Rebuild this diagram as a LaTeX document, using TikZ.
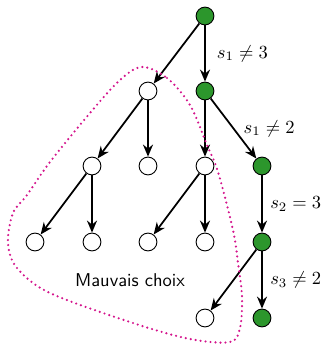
\documentclass[tikz,border=0pt]{standalone}
\usetikzlibrary{arrows.meta}
\definecolor{goodgreen}{RGB}{44,150,44}
\definecolor{badmag}{RGB}{212,20,140}
\begin{document}
\begin{tikzpicture}[x=0.54pt,y=-0.54pt,
  st/.style={circle,draw=black,line width=0.5pt,fill=white,minimum size=9.6pt,inner sep=0pt},
  ok/.style={st,fill=goodgreen},
  ar/.style={-{Stealth[length=6.5pt,width=5.4pt]},line width=0.95pt},
  lbl/.style={right,inner sep=4pt}]
\useasboundingbox (0,0) rectangle (326,346);
\node[ok] (r) at (205,16) {};
\node[st] (a) at (148,91) {};
\node[ok] (b) at (205,91) {};
\node[st] (a1) at (92,166) {};
\node[st] (a2) at (148,166) {};
\node[st] (b1) at (205,166) {};
\node[ok] (b2) at (262,166) {};
\node[st] (a11) at (35,242) {};
\node[st] (a12) at (92,242) {};
\node[st] (b11) at (148,242) {};
\node[st] (b12) at (205,242) {};
\node[ok] (c) at (262,242) {};
\node[st] (c1) at (205,318) {};
\node[ok] (c2) at (262,318) {};
\draw[ar] (r) -- (a);
\draw[ar] (r) -- node[lbl,xshift=2pt] {$s_1 \neq 3$} (b);
\draw[ar] (a) -- (a1);
\draw[ar] (a) -- (a2);
\draw[ar] (b) -- (b1);
\draw[ar] (b) -- node[lbl,xshift=1pt] {$s_1 \neq 2$} (b2);
\draw[ar] (a1) -- (a11);
\draw[ar] (a1) -- (a12);
\draw[ar] (b1) -- (b11);
\draw[ar] (b1) -- (b12);
\draw[ar] (b2) -- node[lbl] {$s_2 = 3$} (c);
\draw[ar] (c) -- (c1);
\draw[ar] (c) -- node[lbl] {$s_3 \neq 2$} (c2);
\node[font=\sffamily] (mc) at (130,280) {Mauvais choix};
\draw[badmag,line width=1.3pt,dash pattern=on 0pt off 2.7pt,line cap=round] plot[smooth cycle,tension=0.55] coordinates {
 (142,67) (167,78) (190,105) (207,145) (218,172) (233,230) (238,263) (242,297) (240,328) (230,342)
 (190,339) (133,323) (50,293) (17,268) (8,243) (13,213) (27,195) (50,162) (90,113) (120,80)};
\end{tikzpicture}
\end{document}
